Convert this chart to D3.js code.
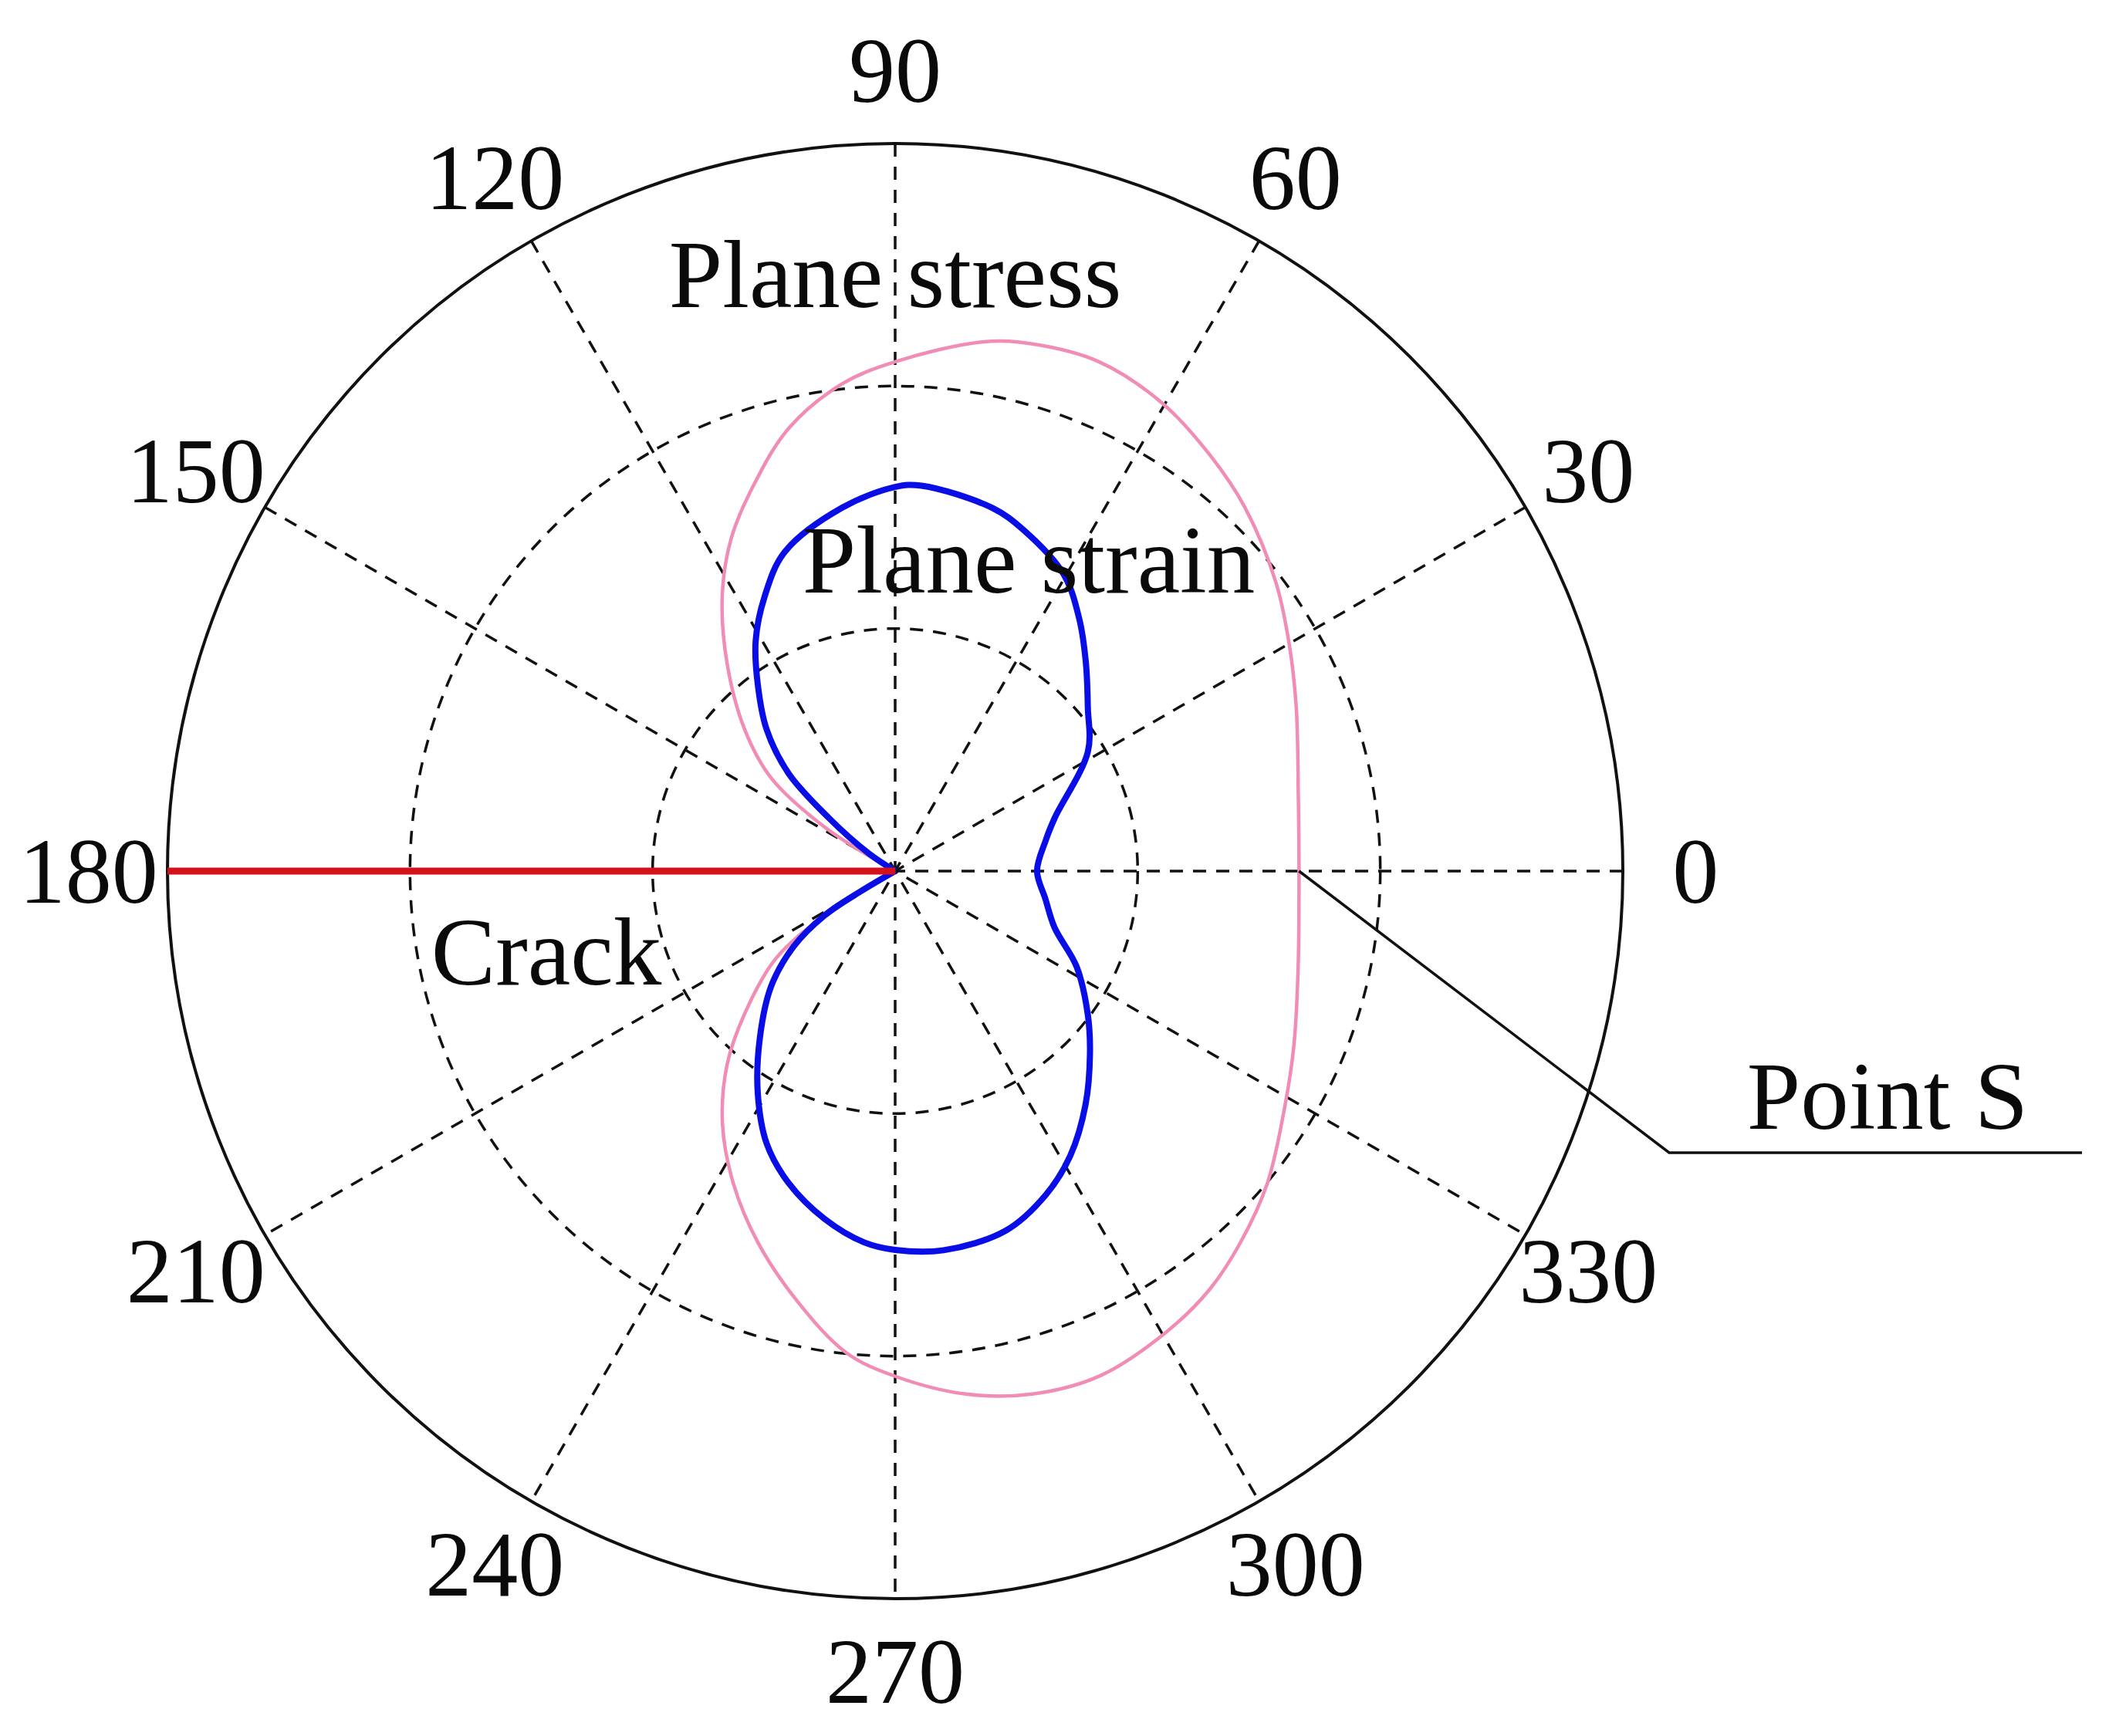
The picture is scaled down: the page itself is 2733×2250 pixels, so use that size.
<!DOCTYPE html>
<html><head><meta charset="utf-8">
<script src="https://cdn.jsdelivr.net/npm/d3@7"></script>
<style>html,body{margin:0;padding:0;background:#fff;} svg{display:block;} text{font-family:"Liberation Serif","Times New Roman",serif;fill:#0a0a0a;}</style>
</head><body>
<svg id="chart" width="2733" height="2250"></svg>
<script>
// ---- data ----
const angleTicks = [0, 30, 60, 90, 120, 150, 180, 210, 240, 270, 300, 330];
const angleTickLabels = ["0", "30", "60", "90", "120", "150", "180", "210", "240", "270", "300", "330"];
const ringValues = [1, 2, 3];
const spokeAngles = [0, 30, 60, 90, 120, 150];

// Plane strain (blue) — angle (deg), radius (ring units)
const strainTheta = [-180, -149.5, -147.8, -143.3, -137.1, -129.1, -121.8, -115.2, -108.8, -101.5, -94.8, -90, -82.7, -72.9, -65.1, -58.4, -50.8, -43.1, -36.6, -27.8, -19.5, -10.5, 0, 11.6, 18.4, 31.8, 40.4, 47.5, 53.9, 60.4, 69.4, 75, 86.1, 90, 98.3, 109.1, 115.4, 121.2, 126.4, 132.2, 137.5, 141.3, 146.2, 180];
const strainR = [0, 0.170, 0.345, 0.524, 0.698, 0.884, 1.075, 1.243, 1.360, 1.463, 1.536, 1.562, 1.576, 1.551, 1.473, 1.378, 1.242, 1.100, 0.989, 0.846, 0.697, 0.630, 0.585, 0.634, 0.693, 0.935, 1.043, 1.164, 1.288, 1.407, 1.503, 1.550, 1.593, 1.584, 1.514, 1.392, 1.254, 1.110, 0.954, 0.789, 0.595, 0.351, 0.132, 0];

// Plane stress (pink)
const stressTheta = [-180, -150, -148, -143.7, -136.5, -130.9, -124.3, -117.4, -110.3, -102.8, -95.8, -90, -82.3, -75.3, -68, -59.7, -53.1, -47.1, -40, -30.9, -23.6, -13.4, 0, 10.6, 22.2, 29.8, 37.1, 46.1, 52.9, 60.2, 68.2, 75.4, 80.5, 90, 96.2, 103.5, 110.2, 116.3, 122.2, 128.9, 136.7, 143.1, 148, 150, 180];
const stressR = [0, 0.169, 0.344, 0.612, 0.856, 1.059, 1.263, 1.450, 1.632, 1.819, 1.996, 2.083, 2.176, 2.229, 2.246, 2.206, 2.158, 2.091, 2.003, 1.874, 1.794, 1.708, 1.665, 1.691, 1.786, 1.873, 1.969, 2.080, 2.151, 2.221, 2.262, 2.246, 2.213, 2.100, 2.021, 1.878, 1.693, 1.527, 1.338, 1.104, 0.853, 0.639, 0.345, 0.127, 0];

// Crack along 180 deg from the outer ring to the tip
const crackTheta = [180, 180];
const crackR = [3, 0];

const annotationTexts = ["Plane stress", "Plane strain", "Crack", "Point S"];

// ---- drawing ----
const svg = d3.select("#chart");
svg.append("rect").attr("width", 2733).attr("height", 2250).attr("fill", "#fff");

const cx = 1160, cy = 1129, R = 943;
const rScale = d3.scaleLinear().domain([0, 3]).range([0, R]);
const toRad = d => (90 - d) * Math.PI / 180;   // math angle -> d3 radial angle
const px = (t, v) => rScale(v) * Math.cos(t * Math.PI / 180);
const py = (t, v) => -rScale(v) * Math.sin(t * Math.PI / 180);

const g = svg.append("g").attr("transform", `translate(${cx},${cy})`);

// rings
g.selectAll("circle.ring").data(ringValues).join("circle")
  .attr("class", "ring")
  .attr("r", d => rScale(d))
  .attr("fill", "none")
  .attr("stroke", "#111")
  .attr("stroke-width", d => d === 3 ? 4 : 3.5)
  .attr("stroke-dasharray", d => d === 3 ? null : "17,13");

// spokes (full diameters)
g.selectAll("line.spoke").data(spokeAngles).join("line")
  .attr("class", "spoke")
  .attr("x1", d => px(d, 3)).attr("y1", d => py(d, 3))
  .attr("x2", d => px(d + 180, 3)).attr("y2", d => py(d + 180, 3))
  .attr("stroke", "#111").attr("stroke-width", 3.5)
  .attr("stroke-dasharray", "17,13");

// angle labels
const labR = 3 * 1.1;
g.selectAll("text.tick").data(angleTicks).join("text")
  .attr("class", "tick")
  .attr("x", d => px(d, labR) + (d === 180 ? -8 : 0) + ((d === 150 || d === 210) ? -8 : 0))
  .attr("y", d => py(d, labR))
  .attr("text-anchor", "middle")
  .attr("dominant-baseline", "central")
  .attr("font-size", 120)
  .text((d, i) => angleTickLabels[i]);

// curves
const radial = d3.lineRadial()
  .angle(d => toRad(d[0]))
  .radius(d => rScale(d[1]))
  .curve(d3.curveCatmullRom.alpha(0.5));

const stressPts = stressTheta.map((t, i) => [t, stressR[i]]);
const strainPts = strainTheta.map((t, i) => [t, strainR[i]]);

g.append("path").attr("d", radial(stressPts))
  .attr("fill", "none").attr("stroke", "#f08cb6").attr("stroke-width", 4.5);

g.append("path").attr("d", radial(strainPts))
  .attr("fill", "none").attr("stroke", "#0a0ee6").attr("stroke-width", 8)
  .attr("stroke-linejoin", "round");

// crack
const crackPts = crackTheta.map((t, i) => [t, crackR[i]]);
g.append("path").attr("d", d3.lineRadial().angle(d => toRad(d[0])).radius(d => rScale(d[1]))(crackPts))
  .attr("fill", "none").attr("stroke", "#d4121c").attr("stroke-width", 9);

// annotations
const fs = 125;
g.append("text").attr("x", 0).attr("y", 398 - cy).attr("text-anchor", "middle").attr("font-size", fs).text(annotationTexts[0]);
g.append("text").attr("x", 1333 - cx).attr("y", 768 - cy).attr("text-anchor", "middle").attr("font-size", fs).text(annotationTexts[1]);
g.append("text").attr("x", 708 - cx).attr("y", 1276 - cy).attr("text-anchor", "middle").attr("font-size", fs).text(annotationTexts[2]);
g.append("text").attr("x", 2446 - cx).attr("y", 1463 - cy).attr("text-anchor", "middle").attr("font-size", fs).text(annotationTexts[3]);

// leader for Point S: from the stress curve at 0 deg
const s0 = stressR[stressTheta.indexOf(0)];
const lx0 = px(0, s0), ly0 = py(0, s0);
const elbowX = 2163 - cx, elbowY = 1494 - cy, endX = 2698 - cx;
g.append("path")
  .attr("d", `M${lx0},${ly0}L${elbowX},${elbowY}L${endX},${elbowY}`)
  .attr("fill", "none").attr("stroke", "#111").attr("stroke-width", 3.5);
</script>
</body></html>
